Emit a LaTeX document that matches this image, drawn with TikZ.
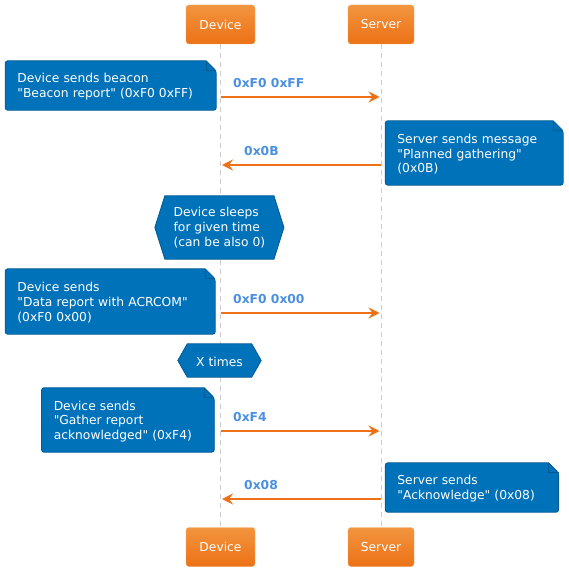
\documentclass[tikz,border=0pt]{standalone}
\usepackage{fontspec}
\setmainfont{DejaVu Sans}[Ligatures=TeXOff]
\usepackage{tikz}
\usetikzlibrary{arrows.meta}
\usetikzlibrary{backgrounds}
\usepackage{xcolor}

\definecolor{actortop}{HTML}{F2953F}
\definecolor{actorbottom}{HTML}{EC7116}
\definecolor{actoredge}{HTML}{F3A866}
\definecolor{noteblue}{HTML}{0072B9}
\definecolor{noteedge}{HTML}{005A93}
\definecolor{msgorange}{HTML}{EF7016}
\definecolor{msgblue}{HTML}{4A8FE0}
\definecolor{lifegray}{HTML}{CCCCCC}

\newcommand{\diagfont}{\fontsize{12.3pt}{14.7pt}\selectfont}

\tikzset{
  actor/.style={rounded corners=3pt, draw=actoredge, top color=actortop, bottom color=actorbottom,
    text=white, font=\diagfont, minimum height=39pt, inner sep=0pt},
  note/.style={text=white, font=\diagfont, align=left, inner xsep=12pt, inner ysep=0pt,
    execute at begin node=\rule{0pt}{12pt}},
  sleepbox/.style={text=white, font=\diagfont, align=left, inner xsep=0pt, inner ysep=0pt,
    execute at begin node=\rule{0pt}{12pt}},
  lifeline/.style={draw=lifegray, dash pattern=on 5pt off 4pt, line width=0.8pt},
  msg/.style={draw=msgorange, line width=2.5pt, shorten >=1.5pt,
    -{Stealth[length=11pt, width=11pt, inset=4pt]}},
  msglabel/.style={text=msgblue, font=\diagfont\bfseries, anchor=west, inner sep=0pt},
}

% paper with folded corner behind a note node
\newcommand{\notepaper}[1]{%
  \path[fill=noteblue, draw=noteedge, line width=0.8pt]
    ([yshift=-10pt]#1.north east) -- ([xshift=-10pt]#1.north east)
    [rounded corners=2.5pt] -- (#1.north west) -- (#1.south west) -- (#1.south east) -- cycle;
  \draw[noteedge, line width=0.8pt] ([xshift=-10pt]#1.north east) -- ([xshift=-10pt,yshift=-10pt]#1.north east)
    -- ([yshift=-10pt]#1.north east);
}
% hexagon behind a node
\newcommand{\hexpaper}[2]{%
  \path[fill=noteblue, draw=noteedge, line width=0.8pt]
    (#1.north west) -- ([xshift=-#2]#1.west) -- (#1.south west) -- (#1.south east)
    -- ([xshift=#2]#1.east) -- (#1.north east) -- cycle;
}

\begin{document}
\begin{tikzpicture}[x=1pt, y=-1pt]
    \useasboundingbox (0,0) rectangle (568,572);

    \node[actor, minimum width=69pt] (devtop) at (220.5,24.5) {Device};
    \node[actor, minimum width=66pt] (srvtop) at (381,24.5) {Server};
    \node[actor, minimum width=69pt] (devbot) at (220.5,547) {Device};
    \node[actor, minimum width=66pt] (srvbot) at (381,547) {Server};

    \node[note, text width=186.6pt, minimum height=49pt] (beacon) at (110.7,85.5)
        {Device sends beacon\\"Beacon report" (0xF0 0xFF)};
    \node[note, text width=153.6pt, minimum height=64pt] (planned) at (474.2,153)
        {Server sends message\\"Planned gathering"\\(0x0B)};
    \node[sleepbox, minimum width=108.7pt, minimum height=63pt] (sleep) at (219.4,227.5)
        {Device sleeps\\for given time\\(can be also 0)};
    \node[note, text width=185.6pt, minimum height=65pt] (datarep) at (110.2,301.5)
        {Device sends\\"Data report with ACRCOM"\\(0xF0 0x00)};
    \node[sleepbox, minimum width=64pt, minimum height=33pt] (xtimes) at (219.5,360.5) {X times};
    \node[note, text width=148.3pt, minimum height=64pt] (gather) at (127.9,420)
        {Device sends\\"Gather report\\acknowledged" (0xF4)};
    \node[note, text width=149pt, minimum height=49pt] (ack) at (471.9,487.5)
        {Server sends\\"Acknowledge" (0x08)};

    \begin{scope}[on background layer]
        \draw[lifeline] (devtop) -- (devbot);
        \draw[lifeline] (srvtop) -- (srvbot);
        \foreach \n in {beacon,planned,datarep,gather,ack} {\notepaper{\n}}
        \hexpaper{sleep}{10pt}
        \hexpaper{xtimes}{9.5pt}
    \end{scope}

    \foreach \i/\y/\a/\b/\dx/\lab in {1/97/dev/srv/12.5/0xF0 0xFF, 2/165/srv/dev/23.5/0x0B,
            3/313/dev/srv/12.5/0xF0 0x00, 4/431/dev/srv/12.5/0xF4, 5/499/srv/dev/23.5/0x08} {
        \coordinate (dev\i) at (220.5,\y);
        \coordinate (srv\i) at (381,\y);
        \draw[msg] (\a\i) -- (\b\i);
        \node[msglabel] (lab\i) at ([xshift=\dx pt, yshift=14pt]dev\i) {\lab};
    }
\end{tikzpicture}
\end{document}
